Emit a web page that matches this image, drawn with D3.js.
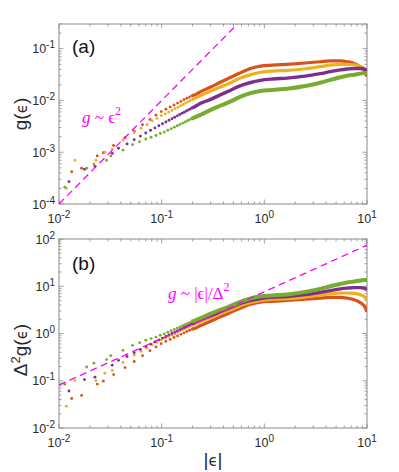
<!DOCTYPE html>
<html><head><meta charset="utf-8">
<script src="https://cdn.jsdelivr.net/npm/d3@7"></script>
<style>body{margin:0;background:#fff}</style>
</head><body>
<svg id="c" width="399" height="472"></svg>
<script>
// ---- data ----
const seriesColors = ["#D95319","#EDB120","#7E2F8E","#77AC30"];
const deltaSq = [100, 144, 225, 400];

const redDotEps = [0.0133,0.0166,0.0236,0.027,0.034,0.044,0.054,0.065,0.077,0.088,0.099,0.11,0.121,0.132,0.143,0.154,0.165,0.176,0.187,0.198];
const redDotG   = [4.2e-4,4.9e-4,8.5e-4,9.8e-4,1.35e-3,1.9e-3,2.55e-3,3.4e-3,4.3e-3,5.2e-3,6.1e-3,6.8e-3,7.5e-3,8.2e-3,8.9e-3,9.6e-3,1.03e-2,1.1e-2,1.17e-2,1.24e-2];

const yellowDotEps = [0.0118,0.0143,0.0229,0.028,0.033,0.042,0.054,0.063,0.072,0.081,0.09,0.099,0.108,0.117,0.126,0.135,0.144,0.153,0.162,0.171,0.18,0.189,0.198];
const yellowDotG   = [2.0e-4,7.0e-4,7.0e-4,1.0e-3,1.15e-3,1.7e-3,2.4e-3,2.9e-3,3.4e-3,4.0e-3,4.5e-3,5.1e-3,5.5e-3,5.95e-3,6.4e-3,6.9e-3,7.4e-3,7.9e-3,8.4e-3,8.9e-3,9.4e-3,9.9e-3,1.04e-2];

const purpleDotEps = [0.0125,0.0177,0.0224,0.033,0.038,0.046,0.054,0.062,0.07,0.078,0.086,0.094,0.102,0.11,0.118,0.126,0.134,0.142,0.15,0.158,0.166,0.174,0.182,0.19,0.198];
const purpleDotG   = [2.7e-4,4.7e-4,5.3e-4,9.5e-4,1.2e-3,1.45e-3,1.75e-3,2.05e-3,2.35e-3,2.65e-3,2.95e-3,3.25e-3,3.55e-3,3.85e-3,4.15e-3,4.45e-3,4.75e-3,5.05e-3,5.35e-3,5.65e-3,5.95e-3,6.25e-3,6.55e-3,6.85e-3,7.15e-3];

const greenDotEps = [0.0114,0.0186,0.0219,0.029,0.032,0.042,0.052,0.061,0.07,0.079,0.088,0.097,0.106,0.115,0.124,0.133,0.142,0.151,0.16,0.169,0.178,0.187,0.196];
const greenDotG   = [2.1e-4,4.9e-4,5.9e-4,7.0e-4,8.5e-4,1.1e-3,1.4e-3,1.6e-3,1.8e-3,1.95e-3,2.1e-3,2.3e-3,2.45e-3,2.65e-3,2.85e-3,3.05e-3,3.25e-3,3.45e-3,3.65e-3,3.85e-3,4.05e-3,4.25e-3,4.45e-3];

const curveEps    = [0.21,0.24,0.3,0.372,0.47,0.58,0.72,0.916,1.2,1.67,2.5,3.5,4.4,5.5,6.4,7.5,8.6,9.5,10];
const redCurve    = [0.0128,0.0148,0.0182,0.0225,0.028,0.034,0.041,0.046,0.048,0.050,0.053,0.056,0.058,0.058,0.056,0.052,0.045,0.037,0.029];
const yellowCurve = [0.011,0.0125,0.0152,0.0182,0.022,0.027,0.031,0.035,0.037,0.038,0.041,0.045,0.048,0.050,0.050,0.049,0.046,0.041,0.035];
const purpleCurve = [0.0076,0.0088,0.0105,0.0128,0.0158,0.0192,0.022,0.0245,0.026,0.027,0.0295,0.033,0.036,0.039,0.0405,0.0415,0.0415,0.040,0.038];
const greenCurve  = [0.0047,0.0053,0.0066,0.0079,0.0096,0.0117,0.0137,0.0153,0.016,0.0168,0.019,0.022,0.025,0.028,0.030,0.0315,0.033,0.034,0.034];

const guideA = [[0.01,1e-4],[10,100]];      // g ~ eps^2
const guideB = [[0.01,0.081],[10,74]];      // g ~ |eps|/Delta^2

const xTickLabels = ["-2","-1","0","1"];
const yATickLabels = ["-4","-3","-2","-1"];
const yBTickLabels = ["-2","-1","0","1","2"];

const series = [
  {eps: redDotEps, g: redDotG, curve: redCurve, w: 3.2},
  {eps: yellowDotEps, g: yellowDotG, curve: yellowCurve, w: 3.2},
  {eps: purpleDotEps, g: purpleDotG, curve: purpleCurve, w: 3.4},
  {eps: greenDotEps, g: greenDotG, curve: greenCurve, w: 4.0}
];

// ---- drawing ----
const svg = d3.select("#c");
const x = d3.scaleLog().domain([0.01,10]).range([59,367]);
const yA = d3.scaleLog().domain([1e-4,0.3]).range([204,24]);
const yB = d3.scaleLog().domain([0.01,100]).range([428,239]);

const axisColor = "#8a8a8a", labelColor = "#2b2b2b";
const sans = "'Liberation Sans', Arial, Helvetica, sans-serif";
const serif = "'Liberation Serif', 'Times New Roman', serif";

function logTicks(d0, d1){
  const major=[], minor=[];
  const a=Math.floor(Math.log10(d0)), b=Math.ceil(Math.log10(d1));
  for(let e=a;e<=b;e++){
    for(let m=1;m<10;m++){
      const v=m*Math.pow(10,e);
      if(v<d0*0.999||v>d1*1.001) continue;
      (m===1?major:minor).push(v);
    }
  }
  return {major, minor};
}

function panel(y, yLabels, id){
  const [x0,x1]=x.range(), [yb,yt]=y.range();
  const g = svg.append("g");
  svg.append("clipPath").attr("id",id).append("rect")
    .attr("x",x0).attr("y",yt).attr("width",x1-x0).attr("height",yb-yt);
  const xt = logTicks(...x.domain()), yt2 = logTicks(...y.domain());
  const tk = g.append("g").attr("stroke",axisColor).attr("stroke-width",0.8);
  const M=4.5, m=2.5;
  xt.major.forEach(v=>{const p=x(v);
    tk.append("line").attr("x1",p).attr("x2",p).attr("y1",yb).attr("y2",yb-M);
    tk.append("line").attr("x1",p).attr("x2",p).attr("y1",yt).attr("y2",yt+M);});
  xt.minor.forEach(v=>{const p=x(v);
    tk.append("line").attr("x1",p).attr("x2",p).attr("y1",yb).attr("y2",yb-m);
    tk.append("line").attr("x1",p).attr("x2",p).attr("y1",yt).attr("y2",yt+m);});
  yt2.major.forEach(v=>{const p=y(v);
    tk.append("line").attr("y1",p).attr("y2",p).attr("x1",x0).attr("x2",x0+M);
    tk.append("line").attr("y1",p).attr("y2",p).attr("x1",x1).attr("x2",x1-M);});
  yt2.minor.forEach(v=>{const p=y(v);
    tk.append("line").attr("y1",p).attr("y2",p).attr("x1",x0).attr("x2",x0+m);
    tk.append("line").attr("y1",p).attr("y2",p).attr("x1",x1).attr("x2",x1-m);});
  g.append("rect").attr("x",x0).attr("y",yt).attr("width",x1-x0).attr("height",yb-yt)
    .attr("fill","none").attr("stroke",axisColor).attr("stroke-width",1);

  xt.major.forEach((v,i)=>{
    const t=g.append("text").attr("x",x(v)).attr("y",yb+19).attr("text-anchor","middle")
      .attr("font-family",sans).attr("font-size",12.5).attr("fill",labelColor);
    t.append("tspan").text("10");
    t.append("tspan").attr("dy",-5).attr("font-size",10).text(xTickLabels[i]);
  });
  yt2.major.forEach((v,i)=>{
    const t=g.append("text").attr("x",55).attr("y",y(v)+4.5).attr("text-anchor","end")
      .attr("font-family",sans).attr("font-size",12.5).attr("fill",labelColor);
    t.append("tspan").text("10");
    t.append("tspan").attr("dy",-5).attr("font-size",10).text(yLabels[i]);
  });
  return g;
}

function drawData(y, scaleIdx, id, guide){
  const d = svg.append("g").attr("clip-path",`url(#${id})`);
  const line = d3.line().x(p=>x(p[0])).y(p=>y(p[1])).curve(d3.curveMonotoneX);
  series.forEach((s,i)=>{
    const k = scaleIdx ? deltaSq[i] : 1;
    const col = seriesColors[i];
    d.append("g").selectAll("circle").data(s.eps.map((e,j)=>[e,s.g[j]*k])).join("circle")
      .attr("cx",p=>x(p[0])).attr("cy",p=>y(p[1])).attr("r",1.45).attr("fill",col);
    const pts = [[s.eps[s.eps.length-1], s.g[s.g.length-1]*k]].concat(curveEps.map((e,j)=>[e,s.curve[j]*k]));
    d.append("path").attr("d",line(pts)).attr("fill","none").attr("stroke",col)
      .attr("stroke-width",s.w).attr("stroke-linecap","butt").attr("stroke-linejoin","round");
  });
  d.append("path").attr("d",d3.line().x(p=>x(p[0])).y(p=>y(p[1]))(guide))
    .attr("fill","none").attr("stroke","#FF00FF").attr("stroke-width",1.3)
    .attr("stroke-dasharray","7,4.5");
}

panel(yA, yATickLabels, "clipA");
drawData(yA, 0, "clipA", guideA);
panel(yB, yBTickLabels, "clipB");
drawData(yB, 1, "clipB", guideB);

// axis labels
const ly = svg.append("text").attr("transform","translate(27,114) rotate(-90)")
  .attr("text-anchor","middle").attr("font-family",sans).attr("font-size",19).attr("fill",labelColor);
ly.append("tspan").text("g(");
ly.append("tspan").attr("font-family","'DejaVu Sans', sans-serif").attr("font-size",15).text("ϵ");
ly.append("tspan").text(")");

const ly2 = svg.append("text").attr("transform","translate(27,350) rotate(-90)")
  .attr("text-anchor","middle").attr("font-family",sans).attr("font-size",19).attr("fill",labelColor);
ly2.append("tspan").text("Δ");
ly2.append("tspan").attr("dy",-7).attr("font-size",13).text("2");
ly2.append("tspan").attr("dy",7).text("g(");
ly2.append("tspan").attr("font-family","'DejaVu Sans', sans-serif").attr("font-size",15).text("ϵ");
ly2.append("tspan").text(")");

const lx = svg.append("text").attr("x",213).attr("y",466).attr("text-anchor","middle")
  .attr("font-family",sans).attr("font-size",19).attr("fill",labelColor);
lx.append("tspan").text("|");
lx.append("tspan").attr("font-family","'DejaVu Sans', sans-serif").attr("font-size",15).text("ϵ");
lx.append("tspan").text("|");

// panel labels
svg.append("text").attr("x",72).attr("y",53).attr("font-family",sans).attr("font-size",19)
  .attr("fill","#111").text("(a)");
svg.append("text").attr("x",72).attr("y",270).attr("font-family",sans).attr("font-size",19)
  .attr("fill","#111").text("(b)");

// annotations
const a1 = svg.append("text").attr("x",82).attr("y",123).attr("font-family",serif)
  .attr("font-size",17).attr("fill","#FF00FF");
a1.append("tspan").attr("font-style","italic").text("g");
a1.append("tspan").text(" ~ ϵ");
a1.append("tspan").attr("dy",-8).attr("font-size",12).text("2");

const a2 = svg.append("text").attr("x",168).attr("y",299).attr("font-family",serif)
  .attr("font-size",17).attr("fill","#FF00FF");
a2.append("tspan").attr("font-style","italic").text("g");
a2.append("tspan").text(" ~ |ϵ|/Δ");
a2.append("tspan").attr("dy",-8).attr("font-size",12).text("2");
</script>
</body></html>
